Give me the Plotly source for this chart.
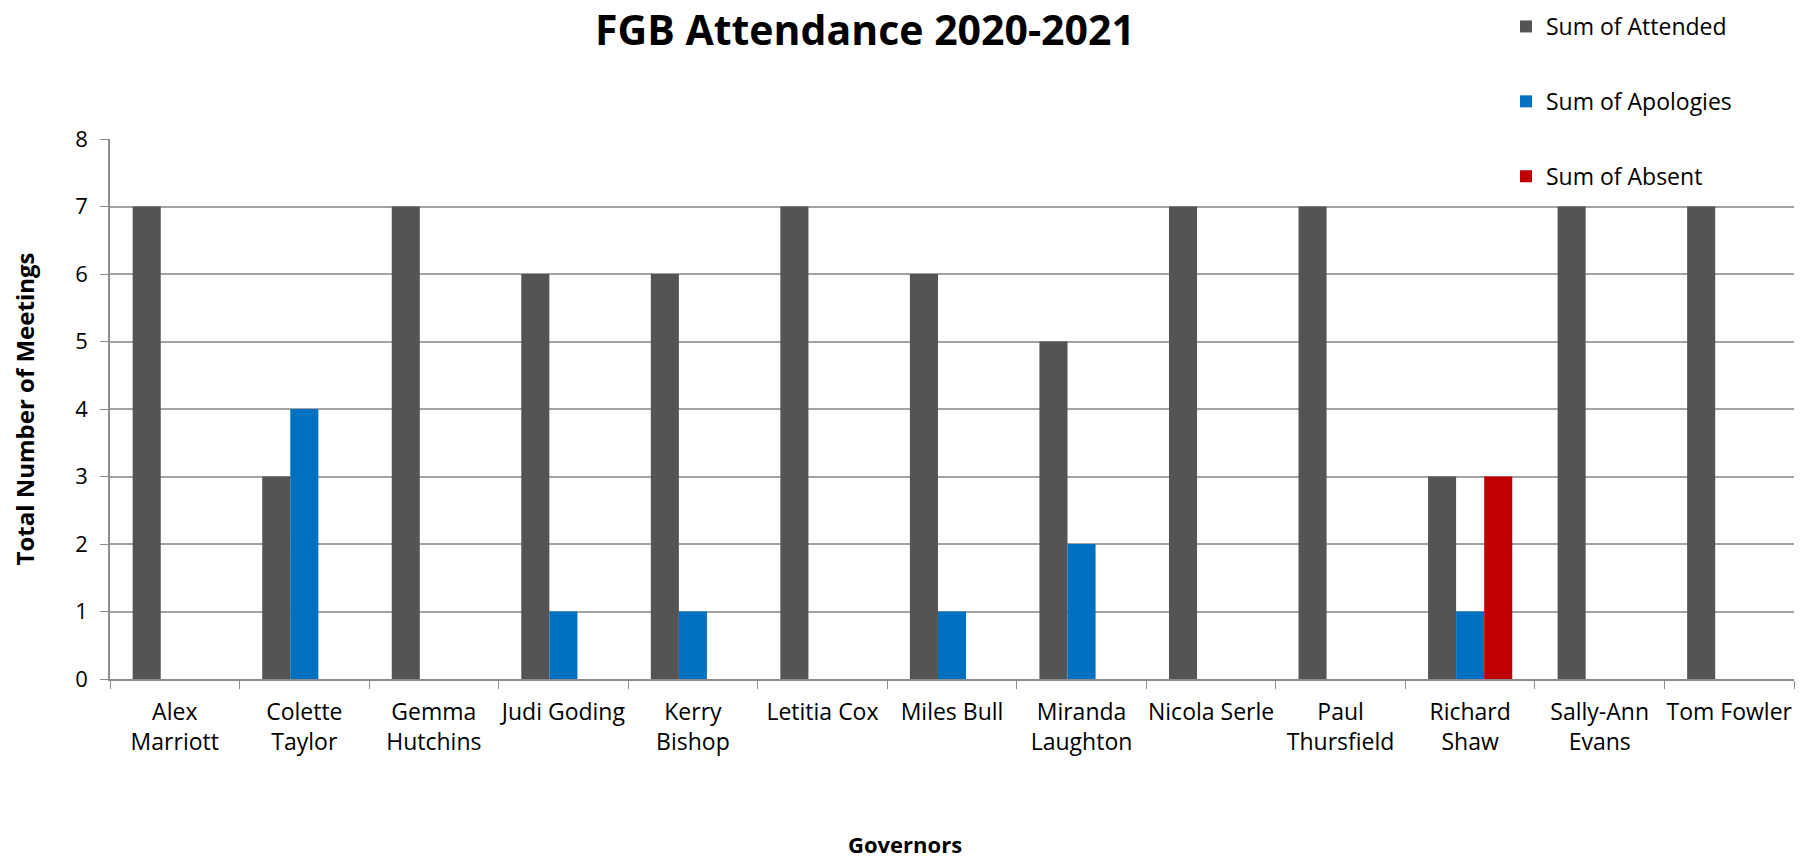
import plotly.graph_objects as go

# ── Data ──────────────────────────────────────────────────────────────────────
GOVERNORS = [
    "Alex<br>Marriott", "Colette<br>Taylor", "Gemma<br>Hutchins", "Judi Goding",
    "Kerry<br>Bishop", "Letitia Cox", "Miles Bull", "Miranda<br>Laughton",
    "Nicola Serle", "Paul<br>Thursfield", "Richard<br>Shaw", "Sally-Ann<br>Evans",
    "Tom Fowler",
]
ATTENDED  = [7, 3, 7, 6, 6, 7, 6, 5, 7, 7, 3, 7, 7]
APOLOGIES = [None, 4, None, 1, 1, None, 1, 2, None, None, 1, None, None]
ABSENT    = [None, None, None, None, None, None, None, None, None, None, 3, None, None]
Y_TICKS   = [0, 1, 2, 3, 4, 5, 6, 7, 8]

# ── Theme ─────────────────────────────────────────────────────────────────────
GREY  = "#545454"
BLUE  = "#0070C0"
RED   = "#C00000"
GRID  = "#A3A3A3"
AXIS  = "#8C8C8C"
FONT  = "Open Sans, sans-serif"

# page has an 8px body margin, so the figure is drawn 16px smaller
W, H = 1793, 851
PLOT_L, PLOT_R, PLOT_T, PLOT_B = 102, 1786, 131, 671

SERIES = [
    ("Sum of Attended", ATTENDED, GREY),
    ("Sum of Apologies", APOLOGIES, BLUE),
    ("Sum of Absent", ABSENT, RED),
]

fig = go.Figure()
for i, (name, vals, col) in enumerate(SERIES):
    fig.add_trace(go.Bar(
        x=GOVERNORS,
        y=vals,
        name=name,
        legendgroup=f"g{i}",
        marker=dict(color=col, line=dict(width=0)),
    ))

# paper-coordinate helpers
def px_x(p):
    return (p - PLOT_L) / (PLOT_R - PLOT_L)

def px_y(p):
    return (PLOT_B - p) / (PLOT_B - PLOT_T)

fig.update_layout(
    width=W,
    height=H,
    barmode="group",
    bargap=0.35,
    bargroupgap=0,
    plot_bgcolor="white",
    paper_bgcolor="white",
    font=dict(family=FONT, color="black", size=22),
    margin=dict(l=PLOT_L, r=W - PLOT_R, t=PLOT_T, b=H - PLOT_B, autoexpand=False),
    title=dict(
        text="<b>FGB Attendance 2020-2021</b>",
        font=dict(size=41, color="black"),
        x=857 / W, xanchor="center", xref="container",
        y=1 - 8 / H, yanchor="top", yref="container",
        pad=dict(t=0, b=0),
    ),
    legend=dict(
        x=px_x(1498), xanchor="left",
        y=px_y(-3), yanchor="top",
        font=dict(size=23, color="black"),
        tracegroupgap=42,
        bgcolor="rgba(0,0,0,0)",
    ),
    xaxis=dict(
        type="category",
        tickson="boundaries",
        ticks="outside",
        ticklen=8,
        tickcolor=AXIS,
        tickangle=0,
        ticklabelstandoff=12,
        showline=True,
        linecolor=AXIS,
        linewidth=1.5,
        showgrid=False,
        tickfont=dict(size=23),
    ),
    yaxis=dict(
        range=[0, 8],
        tickvals=Y_TICKS,
        ticks="outside",
        ticklen=8,
        tickcolor=AXIS,
        ticklabelstandoff=8,
        showline=True,
        linecolor=AXIS,
        linewidth=1.5,
        showgrid=True,
        gridcolor=GRID,
        gridwidth=1.5,
        zeroline=False,
        tickfont=dict(size=22),
        title=dict(text="<b>Total Number of Meetings</b>", font=dict(size=24), standoff=36),
    ),
    annotations=[
        dict(
            text="<b>Governors</b>",
            font=dict(size=22),
            x=px_x(897), xref="paper", xanchor="center",
            y=px_y(836), yref="paper", yanchor="middle",
            showarrow=False,
        ),
    ],
)

fig.write_html("out.html")
